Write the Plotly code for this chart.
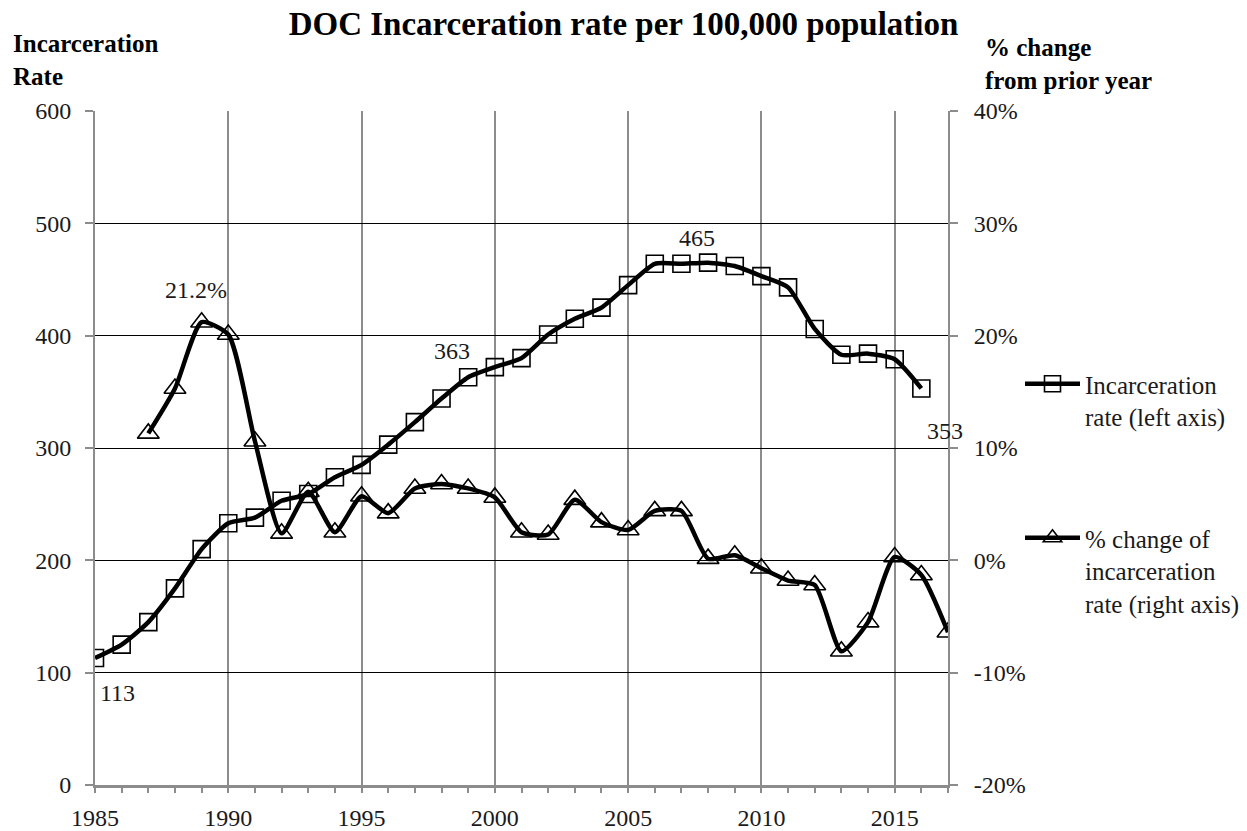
import plotly.graph_objects as go

# ---------------- data ----------------
rate_years = list(range(1985, 2017))
rate_values = [113, 125, 145, 175, 210, 233, 238, 253, 259, 274, 285, 303, 323, 344, 363, 372,
               380, 401, 415, 425, 445, 464, 464, 465, 462, 453, 443, 406, 383, 384, 379, 353]

pct_years = list(range(1987, 2018))
pct_values = [11.3, 15.3, 21.2, 20.1, 10.6, 2.4, 6.1, 2.5, 5.7, 4.2, 6.4, 6.8, 6.4, 5.6, 2.5,
              2.3, 5.4, 3.4, 2.7, 4.4, 4.4, 0.15, 0.45, -0.7, -1.8, -2.2, -8.1, -5.5, 0.3, -1.3, -6.4]

x_tick_vals = [1985, 1990, 1995, 2000, 2005, 2010, 2015]
x_tick_text = ["1985", "1990", "1995", "2000", "2005", "2010", "2015"]
left_tick_vals = [0, 100, 200, 300, 400, 500, 600]
left_tick_text = ["0", "100", "200", "300", "400", "500", "600"]
right_tick_vals = [-20, -10, 0, 10, 20, 30, 40]
right_tick_text = ["-20%", "-10%", "0%", "10%", "20%", "30%", "40%"]

title_text = "DOC Incarceration rate per 100,000 population"
left_title = "Incarceration<br>Rate"
right_title = "% change<br>from prior year"
series1_name = "Incarceration<br>rate (left axis)"
series2_name = "% change of<br>incarceration<br>rate (right axis)"

# ---------------- style ----------------
FONT = "Liberation Serif"
TXT = "#1a1a1a"
GRAY = "#8c8c8c"
W, H = 1247, 831
L, R, T, B = 95, 299, 111, 46
pw = W - L - R
ph = H - T - B
FS = 24

fig = go.Figure()

fig.add_trace(go.Scatter(
    x=rate_years, y=rate_values, name=series1_name, legendgroup="a",
    mode="lines+markers",
    line=dict(color="black", width=4.5, shape="spline", smoothing=0.6),
    marker=dict(symbol="square-open", size=17, color="black", line=dict(color="black", width=1.6)),
    xaxis="x", yaxis="y",
))
fig.add_trace(go.Scatter(
    x=pct_years, y=pct_values, name=series2_name, legendgroup="b",
    mode="lines+markers",
    line=dict(color="black", width=4.5, shape="spline", smoothing=0.6),
    marker=dict(symbol="triangle-up-open", size=19, color="black", line=dict(color="black", width=1.6)),
    xaxis="x", yaxis="y2",
))

# data labels
def idx(lst, v):
    return lst.index(v)

labels = [
    (rate_years[0], rate_values[0], "y", f"{rate_values[0]}", 22, -35),
    (pct_years[idx(pct_values, max(pct_values))], max(pct_values), "y2", f"{max(pct_values):.1f}%", -6, 32),
    (1999, rate_values[idx(rate_years, 1999)], "y", f"{rate_values[idx(rate_years, 1999)]}", -16, 26),
    (2008, rate_values[idx(rate_years, 2008)], "y", f"{rate_values[idx(rate_years, 2008)]}", -11, 25),
    (rate_years[-1], rate_values[-1], "y", f"{rate_values[-1]}", 24, -43),
]
for x, y, yref, txt, dx, dy in labels:
    fig.add_annotation(x=x, y=y, xref="x", yref=yref, text=txt, showarrow=False,
                       xshift=dx, yshift=dy, xanchor="center", yanchor="middle",
                       font=dict(family=FONT, size=FS, color=TXT))

# axis titles
fig.add_annotation(xref="paper", yref="paper", x=(11 - L) / pw, y=(H - B - 60) / ph,
                   xanchor="left", yanchor="middle", align="left", showarrow=False,
                   text=f"<b>{left_title}</b>", font=dict(family=FONT, size=25, color="black"))
fig.add_annotation(xref="paper", yref="paper", x=(983 - L) / pw, y=(H - B - 64) / ph,
                   xanchor="left", yanchor="middle", align="left", showarrow=False,
                   text=f"<b>{right_title}</b>", font=dict(family=FONT, size=25, color="black"))

fig.update_layout(
    width=W, height=H,
    margin=dict(l=L, r=R, t=T, b=B, autoexpand=False),
    paper_bgcolor="white", plot_bgcolor="white",
    font=dict(family=FONT, size=FS, color=TXT),
    title=dict(text=f"<b>{title_text}</b>", x=0.5, xref="container", xanchor="center",
               y=1 - 23 / H, yref="container", yanchor="middle",
               font=dict(family=FONT, size=33, color="black")),
    showlegend=True,
    legend=dict(x=(1020 - L) / pw, y=(H - B - 361) / ph, xanchor="left", yanchor="top",
                valign="top", tracegroupgap=86, itemwidth=55,
                font=dict(family=FONT, size=25, color=TXT), bgcolor="rgba(0,0,0,0)"),
    xaxis=dict(range=[1985, 2017], tickvals=x_tick_vals, ticktext=x_tick_text,
               showgrid=True, gridcolor=GRAY, gridwidth=1.5,
               showline=True, linecolor=GRAY, linewidth=2.5,
               ticks="outside", ticklen=5, tickcolor=GRAY, tickwidth=1.5,
               minor=dict(dtick=1, tick0=1985, ticks="outside", ticklen=5, tickcolor=GRAY,
                          tickwidth=1.5, showgrid=False),
               ticklabelstandoff=4, zeroline=False, automargin=False,
               tickfont=dict(family=FONT, size=FS, color=TXT)),
    xaxis3=dict(range=[1985, 2017], overlaying="x", anchor="y", side="bottom",
                showticklabels=False, showgrid=False, showline=False, zeroline=False,
                ticks="inside", ticklen=5, tickcolor=GRAY, tickwidth=1.5, automargin=False,
                tickmode="linear", tick0=1985, dtick=1),
    yaxis=dict(range=[0, 600], tickvals=left_tick_vals, ticktext=left_tick_text,
               showgrid=True, gridcolor="black", gridwidth=1.4,
               showline=True, linecolor=GRAY, linewidth=2,
               ticks="outside", ticklen=8, tickcolor=GRAY, tickwidth=1.5,
               ticklabelstandoff=9, zeroline=False, automargin=False,
               tickfont=dict(family=FONT, size=FS, color=TXT)),
    yaxis2=dict(range=[-20, 40], tickvals=right_tick_vals, ticktext=right_tick_text,
                overlaying="y", side="right", anchor="x",
                showgrid=False, showline=True, linecolor=GRAY, linewidth=2,
                ticks="outside", ticklen=8, tickcolor=GRAY, tickwidth=1.5,
                ticklabelstandoff=11, zeroline=False, automargin=False,
                tickfont=dict(family=FONT, size=FS, color=TXT)),
)

fig.write_html("out.html")
